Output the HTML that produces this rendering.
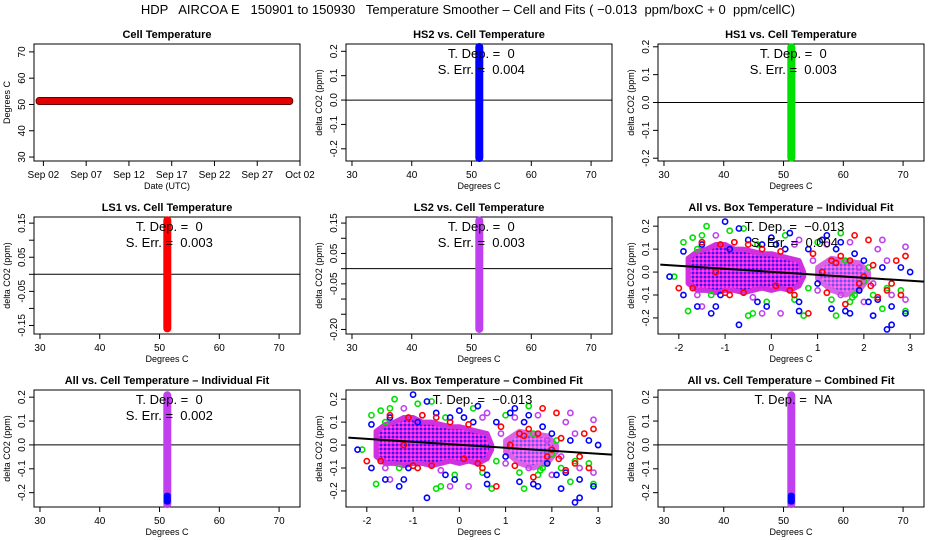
<!DOCTYPE html>
<html><head><meta charset="utf-8"><style>
body{margin:0;background:#fff}
svg{display:block;font-family:"Liberation Sans",sans-serif}
svg text{white-space:pre}
</style></head><body>
<svg id="c" width="936" height="540" viewBox="0 0 936 540">
<defs>
<pattern id="dots" width="4" height="4" patternUnits="userSpaceOnUse">
<rect width="4" height="4" fill="#e020e0"/>
<rect x="0" y="0" width="2" height="2" fill="#3020f0"/>
<rect x="2" y="2" width="2" height="2" fill="#ff40ff"/>
</pattern>
</defs>
<text x="468" y="14" text-anchor="middle" font-size="13">HDP   AIRCOA E   150901 to 150930   Temperature Smoother – Cell and Fits ( −0.013  ppm/boxC + 0  ppm/cellC)</text>
</svg>
<script>
// ---- data ----
const cellTempDays = [0.5, 29.8];
const cellTempValue = 51.3;
const dateTickLabels = ["Sep 02","Sep 07","Sep 12","Sep 17","Sep 22","Sep 27","Oct 02"];
const dateTickDays = [1,6,11,16,21,26,31];
const cellTicks = [30,40,50,60,70];
const blueX=[-2.2,-1.9,-1.9,-1.6,-1.3,-1.2,-1.0,-0.7,-0.7,-0.3,-0.1,0.0,0.4,0.6,0.6,0.3,1.1,1.3,1.4,1.6,1.7,1.8,2.1,2.2,2.3,2.5,2.6,2.6,2.9,3.0,2.8,1.0,-0.9,-0.2,2.4,1.9,-1.5,-0.5,0.1,1.2,1.5,2.0,-1.1,0.8];
const blueY=[-0.02,-0.1,0.09,-0.15,-0.18,-0.15,0.22,-0.23,0.19,-0.13,-0.15,0.15,0.17,-0.17,-0.13,0.1,0.14,-0.16,0.1,-0.17,-0.18,0.08,-0.13,-0.19,-0.12,-0.25,-0.23,-0.15,-0.18,0.0,0.02,-0.05,0.1,0.12,0.02,-0.08,0.12,0.14,0.12,0.16,0.13,0.05,-0.1,0.1];
const greenX=[-1.9,-2.1,-1.8,-1.4,-1.5,-1.3,-0.9,-0.6,-0.5,-0.4,-0.1,0.3,0.7,1.0,1.3,1.4,1.5,1.7,1.8,1.9,2.1,2.2,2.4,2.5,2.8,2.9,0.8,-1.6,1.6,-1.7,-0.3,0.5,2.0,1.75];
const greenY=[0.13,-0.02,-0.17,0.2,0.16,-0.1,0.18,0.19,-0.19,-0.18,-0.13,0.16,-0.19,0.13,-0.12,-0.19,0.17,-0.13,-0.1,-0.08,0.02,-0.1,-0.16,-0.07,-0.08,-0.17,-0.07,0.1,0.05,0.15,0.12,-0.12,-0.04,-0.11];
const redX=[-2.0,-1.7,-1.5,-1.1,-0.9,-0.6,-0.5,-0.2,0.2,0.5,0.8,0.9,1.1,1.3,1.5,1.6,1.8,1.9,2.1,2.0,2.2,2.3,2.5,2.7,2.8,2.9,2.6,0.1,-1.2,1.2,-1.0,-0.8,0.4,1.4,1.7,2.15];
const redY=[-0.07,-0.07,0.13,0.12,-0.1,-0.09,0.12,0.1,0.09,-0.1,-0.18,0.08,0.0,0.05,0.07,-0.14,0.16,-0.05,0.14,-0.02,0.03,-0.11,-0.08,0.05,-0.1,0.07,-0.05,-0.06,0.0,-0.09,-0.09,0.13,-0.08,0.04,0.05,-0.06];
const purpX=[-1.5,-1.6,-1.2,-0.8,0.2,0.6,1.0,1.2,1.5,1.7,2.0,2.3,2.4,2.5,2.6,2.9,2.9,1.9,2.2,0.9,-0.2,-0.4,0.5];
const purpY=[-0.15,-0.1,0.16,0.13,-0.18,0.14,-0.08,0.12,-0.1,0.13,-0.13,0.1,0.14,0.05,-0.1,0.11,-0.12,0.02,-0.05,0.05,-0.18,-0.11,0.12];
const coreX=[-1.8,-1.6,-1.4,-1.2,-1.0,-0.8,-0.6,-0.4,-0.2,0,0.2,0.4,0.6,0.7];
const coreHi=[0.06,0.09,0.1,0.12,0.12,0.1,0.1,0.09,0.08,0.08,0.07,0.06,0.05,0.0];
const coreLo=[-0.05,-0.08,-0.08,-0.09,-0.08,-0.08,-0.09,-0.08,-0.07,-0.08,-0.07,-0.08,-0.06,-0.02];
const core2X=[1.0,1.3,1.6,1.9,2.1];
const core2Hi=[0.02,0.06,0.05,0.04,0.0];
const core2Lo=[-0.03,-0.08,-0.1,-0.08,-0.03];
const fitSlope=-0.013, fitIntercept=0.001;
const boxTicks=[-2,-1,0,1,2,3];
const stripHS2=[-0.24,0.22], stripHS1=[-0.2,0.2], stripLS1=[-0.16,0.16], stripLS2=[-0.2,0.16], stripAll=[-0.25,0.21];

const NS="http://www.w3.org/2000/svg", svg=document.getElementById('c');
function el(t,a,p){const e=document.createElementNS(NS,t);for(const k in a)e.setAttribute(k,a[k]);(p||svg).appendChild(e);return e;}
function txt(x,y,s,size,anchor,p,extra){const e=el('text',Object.assign({x:x,y:y,'font-size':size,'text-anchor':anchor||'middle'},extra||{}),p);e.textContent=s;return e;}

function panel(o){
  const g=el('g',{});
  
  
  const L=o.L,R=o.L+266,T=o.T,B=o.T+117;
  const sx=v=>L+(v-o.x0)/(o.x1-o.x0)*(R-L), sy=v=>B-(v-o.y0)/(o.y1-o.y0)*(B-T);
  o.sx=sx;o.sy=sy;o.g=g;
  el('rect',{x:L,y:T,width:R-L,height:B-T,fill:'none',stroke:'#000','stroke-width':1},g);
  const t=txt((L+R)/2,T-6,o.title,11,'middle',g,{'font-weight':'bold'});
  
  o.xt.forEach((v,i)=>{const x=sx(v);el('line',{x1:x,x2:x,y1:B,y2:B+5,stroke:'#000'},g);txt(x,B+17,o.xl[i],10,'middle',g);});
  el('line',{x1:sx(o.xt[0]),x2:sx(o.xt[o.xt.length-1]),y1:B,y2:B,stroke:'#000'},g);
  o.yt.forEach((v,i)=>{const y=sy(v);el('line',{x1:L,x2:L-5,y1:y,y2:y,stroke:'#000'},g);if(o.yl[i]!=='')txt(L-9,y,o.yl[i],10,'middle',g,{transform:`rotate(-90 ${L-9} ${y})`});});
  el('line',{x1:L,x2:L,y1:sy(o.yt[0]),y2:sy(o.yt[o.yt.length-1]),stroke:'#000'},g);
  const xl=txt((L+R)/2,B+28,o.xlab,9,'middle',g);
  const yl=txt(L-24,(T+B)/2,o.ylab,9,'middle',g,{transform:`rotate(-90 ${L-24} ${(T+B)/2})`});
  if(o.zero){const z=el('line',{x1:L,x2:R,y1:sy(0),y2:sy(0),stroke:'#000'},g);}
  return o;
}
const f1=v=>v.toFixed(1), f2=v=>v.toFixed(2);
function strip(o,range,color){
  const x=o.sx(cellTempValue);
  const r=el('rect',{x:x-3.5,y:o.sy(range[1])-3,width:7,height:o.sy(range[0])-o.sy(range[1])+6,rx:3.5,fill:color,stroke:color},o.g);
  
}
function stats(o,lines){lines.forEach((s,i)=>txt(o.sx(51.3)+2,o.T+14+i*16,s,13,'middle',o.g));}
const cols=[34,346,658], rows=[44,217,390];
const cellOpts=(name,title,c,r,yt,yl,y0,y1)=>panel({name,title,L:cols[c],T:rows[r],x0:29,x1:73.5,y0,y1,xt:cellTicks,xl:cellTicks.map(String),yt,yl,xlab:'Degrees C',ylab:'delta CO2 (ppm)',zero:true});

const p1=panel({name:'cell-temperature-panel',title:'Cell Temperature',L:cols[0],T:rows[0],x0:-0.1,x1:31,y0:28.5,y1:73,xt:dateTickDays,xl:dateTickLabels,yt:cellTicks,yl:cellTicks.map(String),xlab:'Date (UTC)',ylab:'Degrees C'});
{const y=p1.sy(cellTempValue);const r=el('rect',{x:p1.sx(cellTempDays[0])-3,y:y-3.5,width:p1.sx(cellTempDays[1])-p1.sx(cellTempDays[0])+6,height:7,fill:'#e00000',stroke:'#600',rx:3},p1.g);
}

const t02=[-0.2,-0.1,0,0.1,0.2];
const p2=cellOpts('hs2-panel','HS2 vs. Cell Temperature',1,0,t02,t02.map(f1),-0.25,0.23);
strip(p2,stripHS2,'#0000ff');stats(p2,['T. Dep. =  0','S. Err. =  0.004']);
const p3=cellOpts('hs1-panel','HS1 vs. Cell Temperature',2,0,t02,t02.map(f1),-0.21,0.21);
strip(p3,stripHS1,'#00e000');stats(p3,['T. Dep. =  0','S. Err. =  0.003']);
const tLS1=[-0.15,-0.1,-0.05,0,0.05,0.1,0.15];
const lLS1=["-0.15","","-0.05","","0.05","","0.15"];
const p4=cellOpts('ls1-panel','LS1 vs. Cell Temperature',0,1,tLS1,lLS1,-0.175,0.168);
strip(p4,stripLS1,'#ff0000');stats(p4,['T. Dep. =  0','S. Err. =  0.003']);
const tLS2=[-0.2,-0.15,-0.1,-0.05,0,0.05,0.1,0.15];
const lLS2=["-0.20","","","-0.05","","0.05","","0.15"];
const p5=cellOpts('ls2-panel','LS2 vs. Cell Temperature',1,1,tLS2,lLS2,-0.215,0.17);
strip(p5,stripLS2,'#c040f0');stats(p5,['T. Dep. =  0','S. Err. =  0.003']);
const p7=cellOpts('all-cell-individual-panel','All vs. Cell Temperature – Individual Fit',0,2,t02,t02.map(f1),-0.26,0.23);
strip(p7,stripAll,'#c040f0');stats(p7,['T. Dep. =  0','S. Err. =  0.002']);
const p9=cellOpts('all-cell-combined-panel','All vs. Cell Temperature – Combined Fit',2,2,t02,t02.map(f1),-0.26,0.23);
strip(p9,stripAll,'#c040f0');stats(p9,['T. Dep. =  NA']);
[p7,p9].forEach(p=>{el('rect',{x:p.sx(cellTempValue)-3.5,y:p.sy(-0.2),width:7,height:p.sy(-0.25)-p.sy(-0.2),rx:3,fill:'#0000ff'},p.g);});

function boxPanel(name,title,c,r,lines){
  const p=panel({name,title,L:cols[c],T:rows[r],x0:-2.45,x1:3.3,y0:-0.27,y1:0.24,xt:boxTicks,xl:boxTicks.map(String),yt:t02,yl:t02.map(f1),xlab:'Degrees C',ylab:'delta CO2 (ppm)'});
  const poly=(X,H,Lo,op)=>{const pts=X.map((x,i)=>p.sx(x)+','+p.sy(H[i])).concat(X.map((x,i)=>p.sx(x)+','+p.sy(Lo[i])).reverse());const e=el('polygon',{points:pts.join(' '),fill:'url(#dots)',opacity:op,stroke:'#d030e0','stroke-width':5,'stroke-linejoin':'round'},p.g);};
  poly(coreX,coreHi,coreLo,1);
  poly(core2X,core2Hi,core2Lo,0.75);
  const pts=(X,Y,col,nm)=>X.forEach((x,i)=>{const e=el('circle',{cx:p.sx(x),cy:p.sy(Y[i]),r:2.6,fill:'none',stroke:col,'stroke-width':1.6},p.g);});
  pts(purpX,purpY,'#c040f0','purple-point');pts(greenX,greenY,'#00e000','green-point');pts(blueX,blueY,'#0000ff','blue-point');pts(redX,redY,'#ff0000','red-point');
  const fl=el('line',{x1:p.sx(-2.4),y1:p.sy(fitIntercept+fitSlope*-2.4),x2:p.sx(3.3),y2:p.sy(fitIntercept+fitSlope*3.3),stroke:'#000','stroke-width':2},p.g);
  
  lines.forEach((s,i)=>txt(p.sx(0.5),p.T+14+i*16,s,13,'middle',p.g));
}
boxPanel('all-box-individual-panel','All vs. Box Temperature – Individual Fit',2,1,['T. Dep. =  −0.013','S. Err. =  0.004']);
boxPanel('all-box-combined-panel','All vs. Box Temperature – Combined Fit',1,2,['T. Dep. =  −0.013']);
</script>
</body></html>
